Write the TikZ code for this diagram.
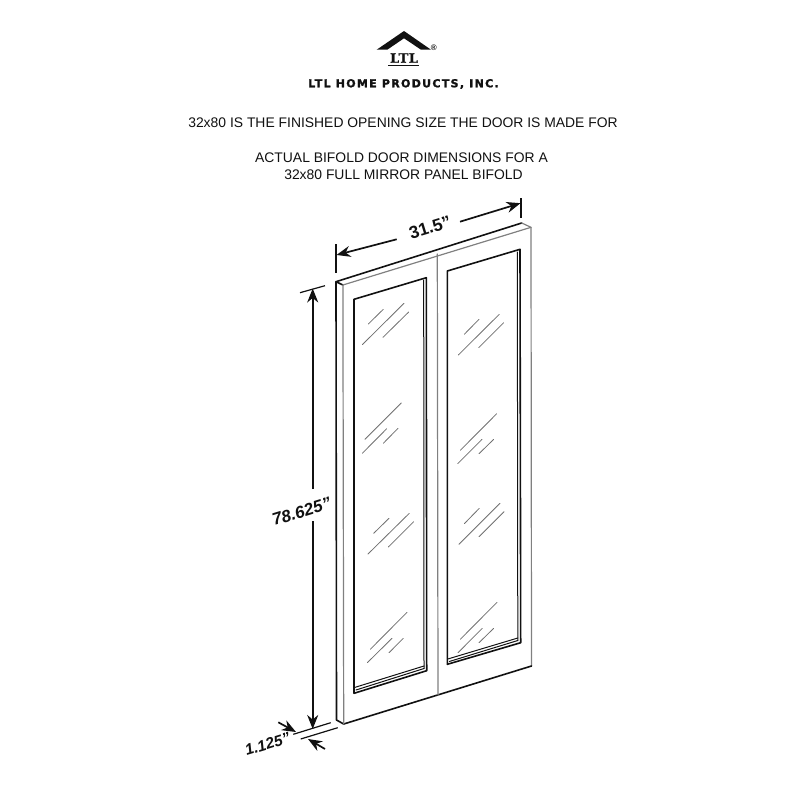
\documentclass[tikz,border=0pt]{standalone}
\usepackage{fontspec}
\usepackage{xcolor}
\usetikzlibrary{arrows.meta}
\setmainfont{Liberation Sans}
\newfontfamily\logofont[LetterSpace=12,BoldFeatures={FakeBold=1.6}]{DejaVu Sans}
\newfontfamily\markfont[LetterSpace=4,BoldFeatures={FakeBold=1.2}]{DejaVu Serif}
\definecolor{ink}{HTML}{111111}
\definecolor{edge}{HTML}{808080}
\definecolor{glint}{HTML}{707070}
\tikzset{
  base/.style={draw=ink, line width=1.6pt, line cap=round, line join=round},
  thin/.style={draw=ink, line width=1.0pt, line cap=round, line join=round},
  soft/.style={draw=edge, line width=1.2pt, line cap=round, line join=round},
  shine/.style={draw=glint, line width=0.8pt, line cap=round},
  dim/.style={draw=ink, line width=1.7pt, -{Stealth[length=14pt,width=11pt]}},
  ext/.style={draw=ink, line width=1.2pt},
  note/.style={text=ink, font=\fontsize{13.9}{16}\selectfont, inner sep=0pt},
  lab/.style={text=ink, font=\fontsize{17.5}{20}\selectfont\bfseries, inner sep=0pt},
  labi/.style={text=ink, font=\fontsize{17}{20}\selectfont\bfseries\itshape, inner sep=0pt},
}
\begin{document}
\begin{tikzpicture}[x=1pt,y=-1pt]
  \useasboundingbox (0,0) rectangle (800,800);
  % logo
  \fill[ink] (376.7,49.7)--(404,31)--(431,49.7)--(421,49.7)--(404,38.3)--(387.3,49.7)--cycle;
  \node[inner sep=0pt, text=ink, font=\fontsize{8}{8}\selectfont\bfseries] (regmark) at (433.7,47.3) {\textregistered};
  \node[inner sep=0pt, text=ink, font=\markfont\fontsize{13}{13}\selectfont\bfseries] (ltl) at (404,58) {LTL};
  \draw[ink, line width=1.5pt] (388.3,65.7)--(419.3,65.7);
  \node[inner sep=0pt, text=ink, font=\logofont\fontsize{11}{11}\selectfont\bfseries] (company) at (403.5,84) {LTL HOME PRODUCTS, INC.};
  % notes
  \node[note] (size) at (403,123) {32x80 IS THE FINISHED OPENING SIZE THE DOOR IS MADE FOR};
  \node[note] (actual) at (401.5,157.7) {ACTUAL BIFOLD DOOR DIMENSIONS FOR A};
  \node[note] (panel) at (403.5,174.3) {32x80 FULL MIRROR PANEL BIFOLD};
  % door
  \coordinate (TL) at (336,281.7);
  \coordinate (TB) at (521.7,223);
  \coordinate (TR) at (531,227.3);
  \coordinate (TF) at (342.9,285);
  \coordinate (BL) at (336.5,720);
  \coordinate (BF) at (343.7,724);
  \coordinate (BR) at (531.5,666);
  \draw[base] (TF)--(TL)--(TB);
  \draw[soft] (TB)--(TR)--(BR);
  \draw[soft] (TF)--(TR);
  \draw[base] (TL)--(BL)--(BF)--(BR);
  \draw[soft] (TF)--(BF);
  \draw[soft] (437.3,254)--(438,695);
  % left glass
  \draw[base] (354,299.3)--(426.3,277.7)--(426.7,670.7)--(354,693.3)--cycle;
  \draw[thin] (423.7,280)--(424,668.5);
  \draw[thin] (356,690)--(424,668.5);
  \draw[thin] (354.5,687.5)--(424,666);
  % right glass
  \draw[base] (447.3,271)--(520,249.3)--(520.7,642.7)--(447.3,664.3)--cycle;
  \draw[thin] (517.3,252)--(517.8,640.5);
  \draw[thin] (449.3,661.5)--(517.8,640.5);
  \draw[thin] (447.8,659)--(517.8,638);
  % reflections
  \foreach \Xa/\Ya/\Xb/\Yb in {
    368.3/324/383.3/309.3, 362.3/344.7/404/303.3, 383/337.3/408.7/312,
    464.3/334.3/479/319.3, 458.3/355/499.3/314.3, 478.7/347.7/503.7/322.7,
    365/439.3/401.3/403, 362.3/453.3/386.7/428.7, 383.3/443.3/398/428.3,
    460.3/450.3/496.7/413.7, 457.7/463.7/482/439.3, 479/453.7/493.7/439.3,
    373.7/533.3/389/518.3, 368/554/409.3/513.3, 388.3/547/413.7/521.7,
    464.3/523.7/479.3/508.3, 459/544.3/500/503.3, 479/536.7/504/511.7,
    370.3/649.3/407/612.3, 367.3/662.7/392/638.3, 389/652.7/403.3/638.3,
    460.3/639.3/497/602.3, 458/652.7/482.3/628.3, 479/642.7/493.7/628.3}
    \draw[shine] (\Xa,\Ya)--(\Xb,\Yb);
  % width
  \draw[ext] (336,244)--(336,273);
  \draw[ext] (521,198)--(521,218);
  \coordinate (WL) at (336.5,255);
  \coordinate (WR) at (520.5,203.2);
  \node[lab, rotate=17] (width) at (430,227.5) {31.5”};
  \draw[dim] (396.7,239.3)--(WL);
  \draw[dim] (460,221.7)--(WR);
  % height
  \draw[ext] (300,292.7)--(325,285.7);
  \coordinate (HT) at (312.7,288.5);
  \coordinate (HB) at (312.7,729);
  \node[labi, rotate=17] (height) at (301.5,511.5) {78.625”};
  \draw[dim] (312.7,489)--(HT);
  \draw[dim] (312.7,521)--(HB);
  % thickness
  \draw[ext] (293.3,734.3)--(330.7,722.7);
  \draw[ext] (300.7,739)--(337.7,727.7);
  \coordinate (DA) at (296,732);
  \coordinate (DB) at (308,739);
  \draw[dim] (278.3,722.3)--(DA);
  \draw[dim] (325,749)--(DB);
  \node[labi, rotate=17, font=\fontsize{15.4}{18}\selectfont\bfseries\itshape] (depth) at (267.5,744) {1.125”};
\end{tikzpicture}
\end{document}
